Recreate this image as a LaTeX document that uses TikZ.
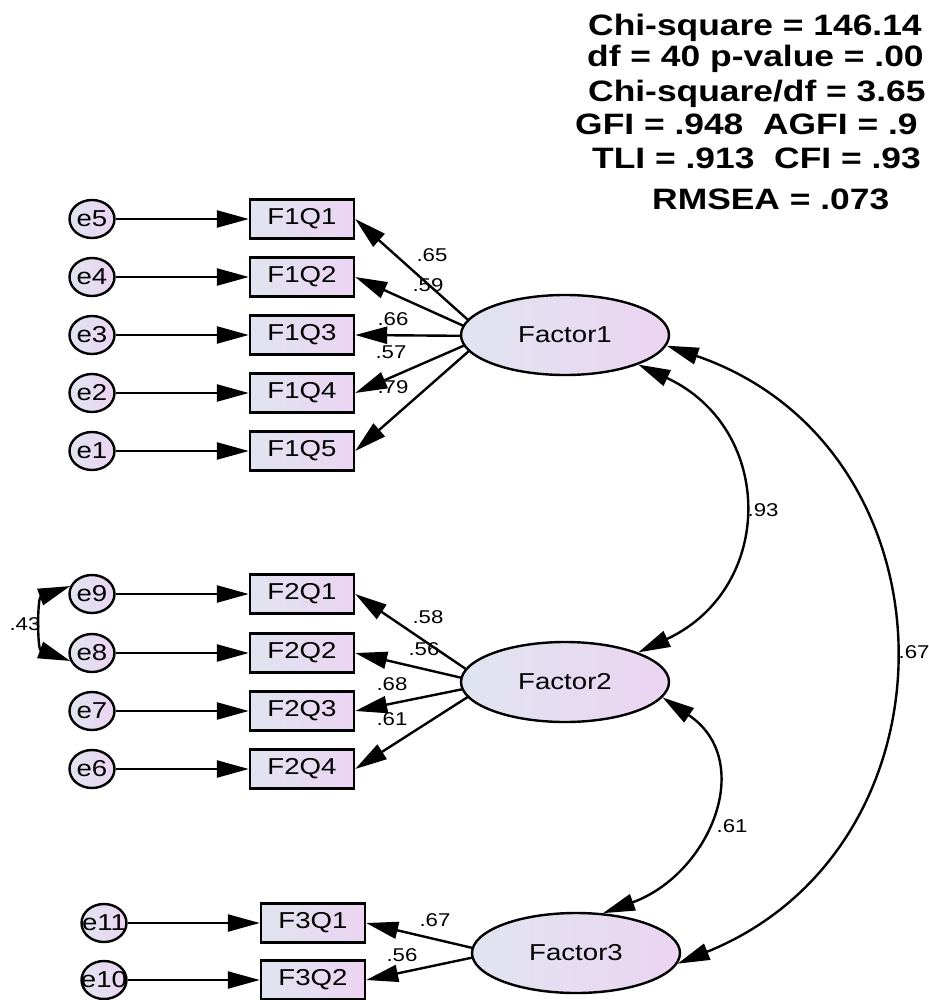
\documentclass[tikz,border=0pt]{standalone}
\usepackage{fontspec}
\usepackage{xcolor}
\usepackage{tikz}
\usetikzlibrary{arrows.meta,shapes.geometric}
\newfontfamily\amosfont[FakeStretch=1.2]{Liberation Sans}
\definecolor{amosleft}{RGB}{224,228,240}
\definecolor{amosright}{RGB}{236,212,242}
\tikzset{
  errornode/.style={ellipse,draw,line width=2.4pt,left color=amosleft,right color=amosright,minimum width=45pt,minimum height=38pt,inner sep=0pt,font=\amosfont\fontsize{23}{27}\selectfont},
  itembox/.style={rectangle,draw,line width=2.4pt,left color=amosleft,right color=amosright,minimum width=104pt,minimum height=39pt,inner sep=0pt,font=\amosfont\fontsize{23}{27}\selectfont},
  factornode/.style={ellipse,draw,line width=2.4pt,left color=amosleft,right color=amosright,minimum width=208pt,minimum height=80pt,inner sep=0pt,font=\amosfont\fontsize{23}{27}\selectfont},
  pathline/.style={line width=2.4pt,-{Triangle[length=32pt,width=17pt]}},
  covline/.style={line width=2.4pt,{Triangle[length=32pt,width=17pt]}-{Triangle[length=32pt,width=17pt]}},
  coefflabel/.style={inner sep=0pt,font=\amosfont\fontsize{18.5}{22}\selectfont},
  fitlabel/.style={anchor=base west,inner sep=0pt,font=\amosfont\bfseries\fontsize{29.5}{34}\selectfont}
}

\begin{document}
\begin{tikzpicture}[x=1pt,y=1pt]
  \useasboundingbox[fill=white] (0,0) rectangle (928,-1000);
  % fit indices
  \node[fitlabel] (fit1) at (588,-35.7) {Chi-square = 146.14};
  \node[fitlabel] (fit2) at (587,-67) {df = 40 p-value = .00};
  \node[fitlabel] (fit3) at (588,-101.7) {Chi-square/df = 3.65};
  \node[fitlabel] (fit4) at (575,-135) {GFI = .948\ \ AGFI = .9};
  \node[fitlabel] (fit5) at (592,-169) {TLI = .913\ \ CFI = .93};
  \node[fitlabel] (fit6) at (652,-210) {RMSEA = .073};
  % factor 1 block
  \node[errornode] (e5) at (92,-219) {\makebox[0pt]{e5}};
  \node[errornode] (e4) at (92,-277) {\makebox[0pt]{e4}};
  \node[errornode] (e3) at (92,-335) {\makebox[0pt]{e3}};
  \node[errornode] (e2) at (92,-393) {\makebox[0pt]{e2}};
  \node[errornode] (e1) at (92,-451) {\makebox[0pt]{e1}};
  \node[itembox] (F1Q1) at (302,-219) {F1Q1};
  \node[itembox] (F1Q2) at (302,-277) {F1Q2};
  \node[itembox] (F1Q3) at (302,-335) {F1Q3};
  \node[itembox] (F1Q4) at (302,-393) {F1Q4};
  \node[itembox] (F1Q5) at (302,-451) {F1Q5};
  \draw[pathline] (e5) -- (F1Q1);
  \draw[pathline] (e4) -- (F1Q2);
  \draw[pathline] (e3) -- (F1Q3);
  \draw[pathline] (e2) -- (F1Q4);
  \draw[pathline] (e1) -- (F1Q5);
  \coordinate (aim1) at (486,-336);
  \draw[pathline] (aim1) -- (F1Q1.east);
  \draw[pathline] (aim1) -- (F1Q2.east);
  \draw[pathline] (aim1) -- (F1Q3.east);
  \draw[pathline] (aim1) -- (F1Q4.east);
  \draw[pathline] (aim1) -- (F1Q5.east);
  \node[factornode] (Factor1) at (565,-335) {Factor1};
  \node[coefflabel] (l11) at (432,-255) {.65};
  \node[coefflabel] (l12) at (428,-285) {.59};
  \node[coefflabel] (l13) at (393,-319) {.66};
  \node[coefflabel] (l14) at (391,-352) {.57};
  \node[coefflabel] (l15) at (393,-387) {.79};
  % factor 2 block
  \node[errornode] (e9) at (92,-594) {\makebox[0pt]{e9}};
  \node[errornode] (e8) at (92,-653) {\makebox[0pt]{e8}};
  \node[errornode] (e7) at (92,-711) {\makebox[0pt]{e7}};
  \node[errornode] (e6) at (92,-769) {\makebox[0pt]{e6}};
  \node[itembox] (F2Q1) at (302,-594) {F2Q1};
  \node[itembox] (F2Q2) at (302,-653) {F2Q2};
  \node[itembox] (F2Q3) at (302,-711) {F2Q3};
  \node[itembox] (F2Q4) at (302,-769) {F2Q4};
  \draw[pathline] (e9) -- (F2Q1);
  \draw[pathline] (e8) -- (F2Q2);
  \draw[pathline] (e7) -- (F2Q3);
  \draw[pathline] (e6) -- (F2Q4);
  \draw[covline] (e9.160) to[out=200,in=160,looseness=1.2] (e8.200);
  \node[coefflabel] (r98) at (25,-624) {.43};
  \coordinate (aim2) at (488,-684);
  \draw[pathline] (aim2) -- (F2Q1.east);
  \draw[pathline] (aim2) -- (F2Q2.east);
  \draw[pathline] (aim2) -- (F2Q3.east);
  \draw[pathline] (aim2) -- (F2Q4.east);
  \node[factornode] (Factor2) at (565,-682) {Factor2};
  \node[coefflabel] (l21) at (428,-617) {.58};
  \node[coefflabel] (l22) at (424,-649) {.56};
  \node[coefflabel] (l23) at (392,-684) {.68};
  \node[coefflabel] (l24) at (392,-719) {.61};
  % factor 3 block
  \node[errornode] (e11) at (104,-923) {\makebox[0pt]{e11}};
  \node[errornode] (e10) at (104,-980) {\makebox[0pt]{e10}};
  \node[itembox] (F3Q1) at (313,-923) {F3Q1};
  \node[itembox] (F3Q2) at (313,-980) {F3Q2};
  \draw[pathline] (e11) -- (F3Q1);
  \draw[pathline] (e10) -- (F3Q2);
  \coordinate (aim3) at (494,-953);
  \draw[pathline] (aim3) -- (F3Q1.east);
  \draw[pathline] (aim3) -- (F3Q2.east);
  \node[factornode] (Factor3) at (576,-953) {Factor3};
  \node[coefflabel] (l31) at (435,-920) {.67};
  \node[coefflabel] (l32) at (402,-955) {.56};
  % correlations
  \draw[covline] (Factor1.-22) to[out=-25,in=25,looseness=1.35] (Factor2.22);
  \draw[covline] (Factor1.-6) to[out=-19,in=22,looseness=1.29] (Factor3.-6);
  \draw[covline] (Factor2.-9) to[out=-34,in=20,looseness=1.3] (Factor3.56);
  \node[coefflabel] (r12) at (763,-510) {.93};
  \node[coefflabel] (r13) at (914,-652) {.67};
  \node[coefflabel] (r23) at (732,-826) {.61};
\end{tikzpicture}
\end{document}
